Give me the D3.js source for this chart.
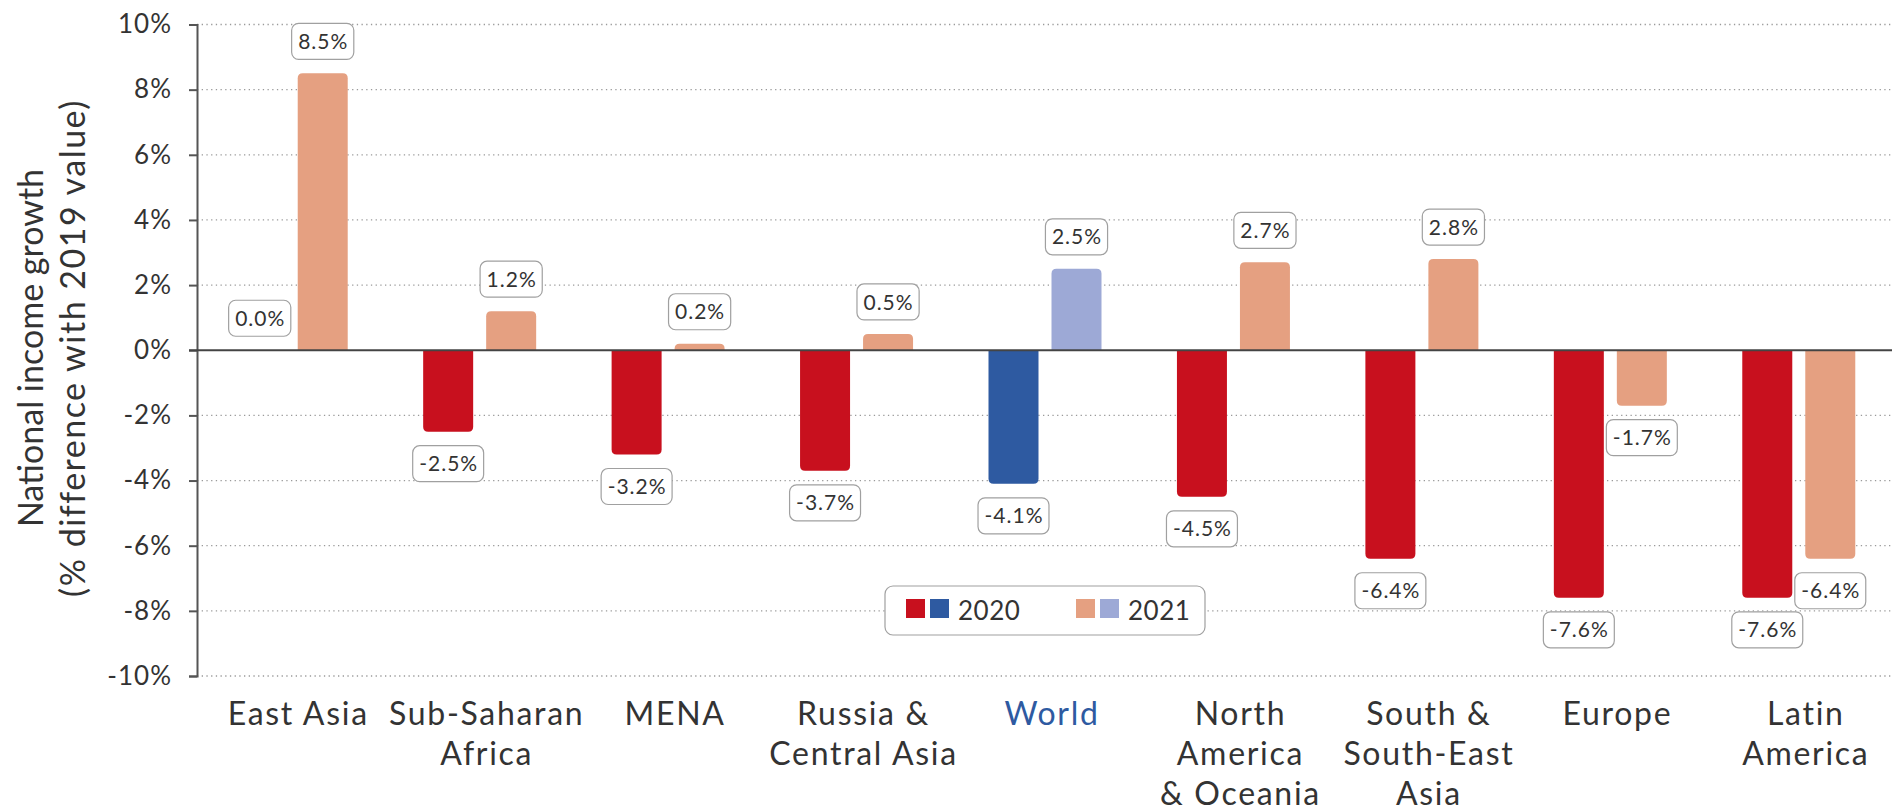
<!DOCTYPE html>
<html>
<head>
<meta charset="utf-8">
<script src="https://cdn.jsdelivr.net/npm/d3@7"></script>
<style>
  body { margin: 0; background: #fff; }
  text { font-family: Lato, "Open Sans", sans-serif; fill: #333; }
</style>
</head>
<body>
<div id="chart"></div>
<script>
var regions = ["East Asia", "Sub-Saharan Africa", "MENA", "Russia & Central Asia", "World",
  "North America & Oceania", "South & South-East Asia", "Europe", "Latin America"];
var regionLines = [["East Asia"], ["Sub-Saharan", "Africa"], ["MENA"], ["Russia &", "Central Asia"], ["World"],
  ["North", "America", "& Oceania"], ["South &", "South-East", "Asia"], ["Europe"], ["Latin", "America"]];
var years = ["2020", "2021"];
var values2020 = [0.0, -2.5, -3.2, -3.7, -4.1, -4.5, -6.4, -7.6, -7.6];
var values2021 = [8.5, 1.2, 0.2, 0.5, 2.5, 2.7, 2.8, -1.7, -6.4];
var yTicks = [-10, -8, -6, -4, -2, 0, 2, 4, 6, 8, 10];

var width = 1892, height = 808;
var colors = {
  "2020": "#c8101e", "2021": "#e5a081",
  world2020: "#2e5aa1", world2021: "#9da9d6"
};

var svg = d3.select("#chart").append("svg")
  .attr("width", width)
  .attr("height", height);

var y = d3.scaleLinear().domain([-10, 10]).range([676, 24.5]);
var x0 = d3.scaleBand().domain(regions).range([197, 1893]);
var bw = x0.bandwidth();
var x1 = d3.scaleBand().domain(years).range([bw / 2 - 56.5, bw / 2 + 56.5]).paddingInner(13 / 63);

// grid
svg.append("g").selectAll("line")
  .data(yTicks.filter(function (d) { return d !== 0; }))
  .enter().append("line")
  .attr("x1", 197).attr("x2", width)
  .attr("y1", function (d) { return y(d); })
  .attr("y2", function (d) { return y(d); })
  .attr("stroke", "#9a9a9a")
  .attr("stroke-width", 1.3)
  .attr("stroke-dasharray", "1.3,3.4");

// y axis
var yAxis = svg.append("g")
  .attr("transform", "translate(197,0)")
  .call(d3.axisLeft(y).tickValues(yTicks).tickSize(8).tickPadding(17)
    .tickFormat(function (d) { return d + "%"; }));
yAxis.select(".domain").attr("stroke", "#555").attr("stroke-width", 2);
yAxis.selectAll(".tick line").attr("stroke", "#555").attr("stroke-width", 2);
yAxis.selectAll(".tick text")
  .attr("font-size", 26)
  .attr("font-family", "Lato, sans-serif")
  .attr("letter-spacing", 1)
  .attr("fill", "#333");

svg.append("g").selectAll("text")
  .data(["National income growth", "(% difference with 2019 value)"])
  .enter().append("text")
  .attr("transform", function (d, i) { return "translate(" + (43 + i * 42) + ",348) rotate(-90)"; })
  .attr("text-anchor", "middle")
  .attr("font-size", 34)
  .attr("letter-spacing", function (d, i) { return i === 0 ? 0 : 1.5; })
  .text(function (d) { return d; });

// bars
var rows = [];
regions.forEach(function (r, i) {
  rows.push({ region: r, year: "2020", value: values2020[i], world: r === "World" });
  rows.push({ region: r, year: "2021", value: values2021[i], world: r === "World" });
});

function barPath(d) {
  var xl = x0(d.region) + x1(d.year), w = x1.bandwidth();
  var y0 = y(0), y1 = y(d.value), r = Math.min(5, Math.abs(y1 - y0));
  if (Math.abs(y1 - y0) < 0.5) return "";
  var s = d.value > 0 ? 1 : -1;
  return "M" + xl + "," + y0 + "V" + (y1 + s * r) + "Q" + xl + "," + y1 + " " + (xl + r) + "," + y1 +
    "H" + (xl + w - r) + "Q" + (xl + w) + "," + y1 + " " + (xl + w) + "," + (y1 + s * r) + "V" + y0 + "Z";
}

svg.append("g").selectAll("path")
  .data(rows)
  .enter().append("path")
  .attr("d", barPath)
  .attr("fill", function (d) { return d.world ? colors["world" + d.year] : colors[d.year]; });

// zero line
svg.append("line")
  .attr("x1", 189).attr("x2", width)
  .attr("y1", y(0)).attr("y2", y(0))
  .attr("stroke", "#444").attr("stroke-width", 2);

// value labels
var lab = svg.append("g").selectAll("g")
  .data(rows)
  .enter().append("g")
  .attr("transform", function (d) {
    var cx = x0(d.region) + x1(d.year) + x1.bandwidth() / 2;
    var cy = d.value >= 0 ? y(d.value) - 14 - 18 : y(d.value) + 14 + 18;
    return "translate(" + cx + "," + cy + ")";
  });
lab.append("rect");
lab.append("text")
  .attr("text-anchor", "middle")
  .attr("dx", 0.5)
  .attr("dy", "0.36em")
  .attr("font-size", 21)
  .attr("letter-spacing", 1)
  .text(function (d) { return d.value.toFixed(1) + "%"; });
lab.each(function () {
  var g = d3.select(this);
  var tw = g.select("text").node().getComputedTextLength() + 12;
  g.select("rect")
    .attr("x", -tw / 2).attr("y", -18)
    .attr("width", tw).attr("height", 36)
    .attr("rx", 7)
    .attr("fill", "#fff")
    .attr("stroke", "#a0a0a0")
    .attr("stroke-width", 1.2);
});

// category labels
svg.append("g").selectAll("text")
  .data(regions)
  .enter().append("text")
  .attr("text-anchor", "middle")
  .attr("font-size", 32)
  .attr("letter-spacing", 1.7)
  .style("fill", function (d) { return d === "World" ? "#2e5aa1" : "#333"; })
  .each(function (d, i) {
    var t = d3.select(this);
    regionLines[i].forEach(function (line, j) {
      t.append("tspan")
        .attr("x", x0(d) + bw / 2 + 7)
        .attr("y", 725 + j * 40)
        .text(line);
    });
  });

// legend
var legend = svg.append("g").attr("transform", "translate(885,586)");
legend.append("rect")
  .attr("width", 320).attr("height", 49).attr("rx", 8)
  .attr("fill", "#fff").attr("stroke", "#a0a0a0").attr("stroke-width", 1.2);
var legItems = [
  { year: "2020", c: [colors["2020"], colors.world2020], x: 21 },
  { year: "2021", c: [colors["2021"], colors.world2021], x: 191 }
];
legItems.forEach(function (it) {
  it.c.forEach(function (c, j) {
    legend.append("rect")
      .attr("x", it.x + j * 24).attr("y", 13)
      .attr("width", 19).attr("height", 19)
      .attr("fill", c);
  });
  legend.append("text")
    .attr("x", it.x + 52).attr("y", 24.5)
    .attr("dy", "0.36em")
    .attr("font-size", 26)
    .attr("letter-spacing", 0.5)
    .text(it.year);
});
</script>
</body>
</html>
